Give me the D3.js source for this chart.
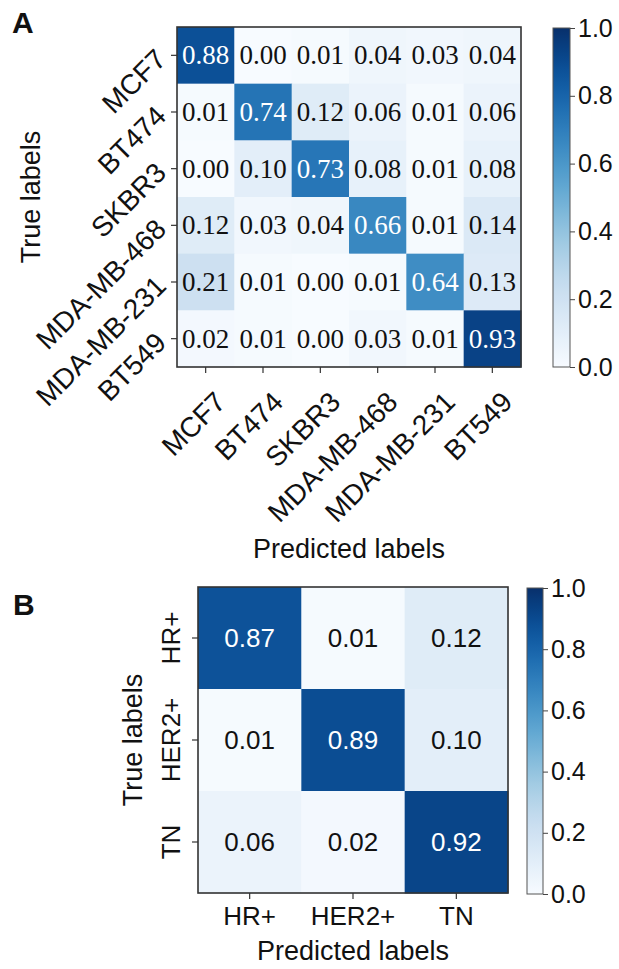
<!DOCTYPE html>
<html>
<head>
<meta charset="utf-8">
<script src="https://cdn.jsdelivr.net/npm/d3@7"></script>
<style>
  html, body { margin: 0; padding: 0; background: #fff; }
  svg { display: block; }
</style>
</head>
<body>
<svg id="chart" width="619" height="969"></svg>
<script>
// ---------- data ----------
const classesA = ["MCF7", "BT474", "SKBR3", "MDA-MB-468", "MDA-MB-231", "BT549"];
const rowMCF7      = [0.88, 0.00, 0.01, 0.04, 0.03, 0.04];
const rowBT474     = [0.01, 0.74, 0.12, 0.06, 0.01, 0.06];
const rowSKBR3     = [0.00, 0.10, 0.73, 0.08, 0.01, 0.08];
const rowMDAMB468  = [0.12, 0.03, 0.04, 0.66, 0.01, 0.14];
const rowMDAMB231  = [0.21, 0.01, 0.00, 0.01, 0.64, 0.13];
const rowBT549     = [0.02, 0.01, 0.00, 0.03, 0.01, 0.93];
const matrixA = [rowMCF7, rowBT474, rowSKBR3, rowMDAMB468, rowMDAMB231, rowBT549];

const classesB = ["HR+", "HER2+", "TN"];
const rowHR   = [0.87, 0.01, 0.12];
const rowHER2 = [0.01, 0.89, 0.10];
const rowTN   = [0.06, 0.02, 0.92];
const matrixB = [rowHR, rowHER2, rowTN];

const colorbarTicks = [0.0, 0.2, 0.4, 0.6, 0.8, 1.0];
const axisTitleX = "Predicted labels";
const axisTitleY = "True labels";

// ---------- drawing ----------
const svg = d3.select("#chart");
const color = d3.scaleSequential(d3.interpolateBlues).domain([0, 1]);
const SANS = "Liberation Sans, Arial, sans-serif";
const SERIF = "Liberation Serif, Times New Roman, serif";

// gradient for colorbars
const defs = svg.append("defs");
const grad = defs.append("linearGradient").attr("id", "blues")
  .attr("x1", 0).attr("y1", 1).attr("x2", 0).attr("y2", 0);
d3.range(0, 1.0001, 0.02).forEach(t => {
  grad.append("stop").attr("offset", t).attr("stop-color", color(t));
});

function flat(matrix, classes) {
  const out = [];
  matrix.forEach((row, i) => row.forEach((v, j) => out.push({ r: classes[i], c: classes[j], v })));
  return out;
}

function panel(cfg) {
  const g = svg.append("g");
  const x = d3.scaleBand().domain(cfg.classes).range(cfg.xr);
  const y = d3.scaleBand().domain(cfg.classes).range(cfg.yr);

  g.selectAll("rect.cell").data(flat(cfg.matrix, cfg.classes)).join("rect")
    .attr("class", "cell")
    .attr("x", d => x(d.c)).attr("y", d => y(d.r))
    .attr("width", x.bandwidth() + 0.5).attr("height", y.bandwidth() + 0.5)
    .attr("fill", d => color(d.v));

  g.selectAll("text.val").data(flat(cfg.matrix, cfg.classes)).join("text")
    .attr("class", "val")
    .attr("x", d => x(d.c) + x.bandwidth() / 2)
    .attr("y", d => y(d.r) + y.bandwidth() / 2 + cfg.valDy)
    .attr("text-anchor", "middle")
    .attr("font-family", cfg.valFont).attr("font-size", cfg.valSize)
    .attr("fill", d => d.v > 0.5 ? "#fff" : "#111")
    .text(d => d3.format(".2f")(d.v));

  // frame
  g.append("rect")
    .attr("x", cfg.xr[0]).attr("y", cfg.yr[0])
    .attr("width", cfg.xr[1] - cfg.xr[0]).attr("height", cfg.yr[1] - cfg.yr[0])
    .attr("fill", "none").attr("stroke", "#333").attr("stroke-width", 1.6);

  // axes
  const xa = g.append("g").attr("transform", `translate(0,${cfg.yr[1]})`)
    .call(d3.axisBottom(x).tickSize(6).tickSizeOuter(0));
  const ya = g.append("g").attr("transform", `translate(${cfg.xr[0]},0)`)
    .call(d3.axisLeft(y).tickSize(6).tickSizeOuter(0));
  [xa, ya].forEach(a => {
    a.select(".domain").remove();
    a.selectAll("line").attr("stroke", "#333").attr("stroke-width", 1.2);
    a.selectAll("text").attr("font-family", SANS).attr("font-size", cfg.tickSize).attr("fill", "#111");
  });
  cfg.styleX(xa.selectAll("text"), x);
  cfg.styleY(ya.selectAll("text"), y);

  // axis titles
  g.append("text")
    .attr("x", (cfg.xr[0] + cfg.xr[1]) / 2).attr("y", cfg.xTitleY)
    .attr("text-anchor", "middle").attr("font-family", SANS).attr("font-size", 27).attr("fill", "#111")
    .text(axisTitleX);
  g.append("text")
    .attr("transform", `translate(${cfg.yTitleX},${(cfg.yr[0] + cfg.yr[1]) / 2}) rotate(-90)`)
    .attr("text-anchor", "middle").attr("font-family", SANS).attr("font-size", 27).attr("fill", "#111")
    .text(axisTitleY);

  // panel letter
  g.append("text").attr("x", cfg.letterX).attr("y", cfg.letterY)
    .attr("font-family", SANS).attr("font-weight", "bold").attr("font-size", 30).attr("fill", "#111")
    .text(cfg.letter);

  // colorbar
  const cy = d3.scaleLinear().domain([0, 1]).range([cfg.cbY[1], cfg.cbY[0]]);
  g.append("rect").attr("x", cfg.cbX[0]).attr("y", cfg.cbY[0])
    .attr("width", cfg.cbX[1] - cfg.cbX[0]).attr("height", cfg.cbY[1] - cfg.cbY[0])
    .attr("fill", "url(#blues)").attr("stroke", "#555").attr("stroke-width", 1);
  const ca = g.append("g").attr("transform", `translate(${cfg.cbX[1]},0)`)
    .call(d3.axisRight(cy).tickValues(colorbarTicks).tickFormat(d3.format(".1f")).tickSize(5).tickPadding(3));
  ca.select(".domain").remove();
  ca.selectAll("line").attr("stroke", "#444").attr("stroke-width", 1);
  ca.selectAll("text").attr("font-family", SANS).attr("font-size", 25).attr("fill", "#111");
}

// Panel A
panel({
  letter: "A", letterX: 12, letterY: 33,
  classes: classesA, matrix: matrixA,
  xr: [177, 521], yr: [27, 367],
  valFont: SERIF, valSize: 27, valDy: 9,
  tickSize: 28,
  styleX: (sel, x) => sel
    .attr("text-anchor", "end").attr("dy", null).attr("y", null)
    .attr("dominant-baseline", "central")
    .attr("transform", `translate(15,30) rotate(-45)`),
  styleY: (sel, y) => sel
    .attr("text-anchor", "end").attr("dy", null).attr("x", null)
    .attr("dominant-baseline", "central")
    .attr("transform", `translate(-16,-1) rotate(-45)`),
  xTitleY: 558, yTitleX: 40,
  cbX: [553, 570], cbY: [28, 367]
});

// Panel B
panel({
  letter: "B", letterX: 13, letterY: 615,
  classes: classesB, matrix: matrixB,
  xr: [198, 508], yr: [587, 893],
  valFont: SANS, valSize: 26, valDy: 9,
  tickSize: 26,
  styleX: (sel, x) => sel.attr("dy", null).attr("y", 32),
  styleY: (sel, y) => sel
    .attr("text-anchor", "middle").attr("dy", null).attr("x", null)
    .attr("transform", `translate(-18,0) rotate(-90)`),
  xTitleY: 960, yTitleX: 142,
  cbX: [527, 543], cbY: [588, 894]
});
</script>
</body>
</html>
